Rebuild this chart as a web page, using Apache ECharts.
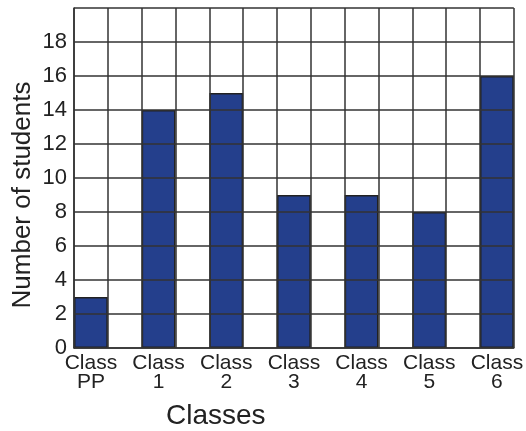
<!DOCTYPE html>
<html>
<head>
<meta charset="utf-8">
<script src="https://cdn.jsdelivr.net/npm/echarts@6/dist/echarts.min.js"></script>
<style>
  html, body { margin: 0; padding: 0; background: #fff; }
  #chart { width: 526px; height: 431px; }
</style>
</head>
<body>
<div id="chart"></div>
<script>
// categories and number of students
const classes = ['Class\nPP', 'Class\n1', 'Class\n2', 'Class\n3', 'Class\n4', 'Class\n5', 'Class\n6'];
const students = [3, 14, 15, 9, 9, 8, 16];
const yTicks = ['0', '2', '4', '6', '8', '10', '12', '14', '16', '18'];

// every class takes one grid column, with an empty column between two classes
const slots = [];
const slotValues = [];
classes.forEach((c, i) => {
  if (i > 0) { slots.push(''); slotValues.push('-'); }
  slots.push(c);
  slotValues.push(students[i]);
});

const font = '"Liberation Sans", Arial, sans-serif';
const lineColor = '#333';
const chart = echarts.init(document.getElementById('chart'));
chart.setOption({
  animation: false,
  textStyle: { fontFamily: font },
  graphic: [
    {
      type: 'text',
      left: 166,
      top: 402,
      style: { text: 'Classes', fontSize: 28, fill: '#222', fontFamily: font }
    },
    {
      type: 'text',
      x: 10,
      y: 195,
      rotation: Math.PI / 2,
      style: {
        text: 'Number of students', fontSize: 26, fill: '#222', fontFamily: font,
        align: 'center', verticalAlign: 'top'
      }
    }
  ],
  grid: { left: 74, right: 8, top: 8, bottom: 83, containLabel: false },
  xAxis: {
    type: 'category',
    data: slots,
    z: 3,
    axisLine: { show: true, lineStyle: { color: lineColor, width: 1.5 } },
    axisTick: { show: false },
    splitLine: { show: true, interval: 0, lineStyle: { color: lineColor, width: 1.5 } },
    axisLabel: {
      interval: 0,
      margin: 6,
      fontSize: 21,
      lineHeight: 19,
      color: '#222'
    }
  },
  yAxis: {
    type: 'value',
    min: 0,
    max: 20,
    interval: 2,
    z: 3,
    axisLine: { show: true, lineStyle: { color: lineColor, width: 1.5 } },
    axisTick: { show: false },
    splitLine: { show: true, lineStyle: { color: lineColor, width: 1.5 } },
    axisLabel: {
      margin: 7,
      fontSize: 22,
      color: '#222',
      formatter: v => yTicks.includes(String(v)) ? String(v) : ''
    }
  },
  series: [{
    type: 'bar',
    data: slotValues,
    barWidth: '100%',
    itemStyle: { color: '#243f8c', borderColor: '#222', borderWidth: 1.5 }
  }]
});
</script>
</body>
</html>
